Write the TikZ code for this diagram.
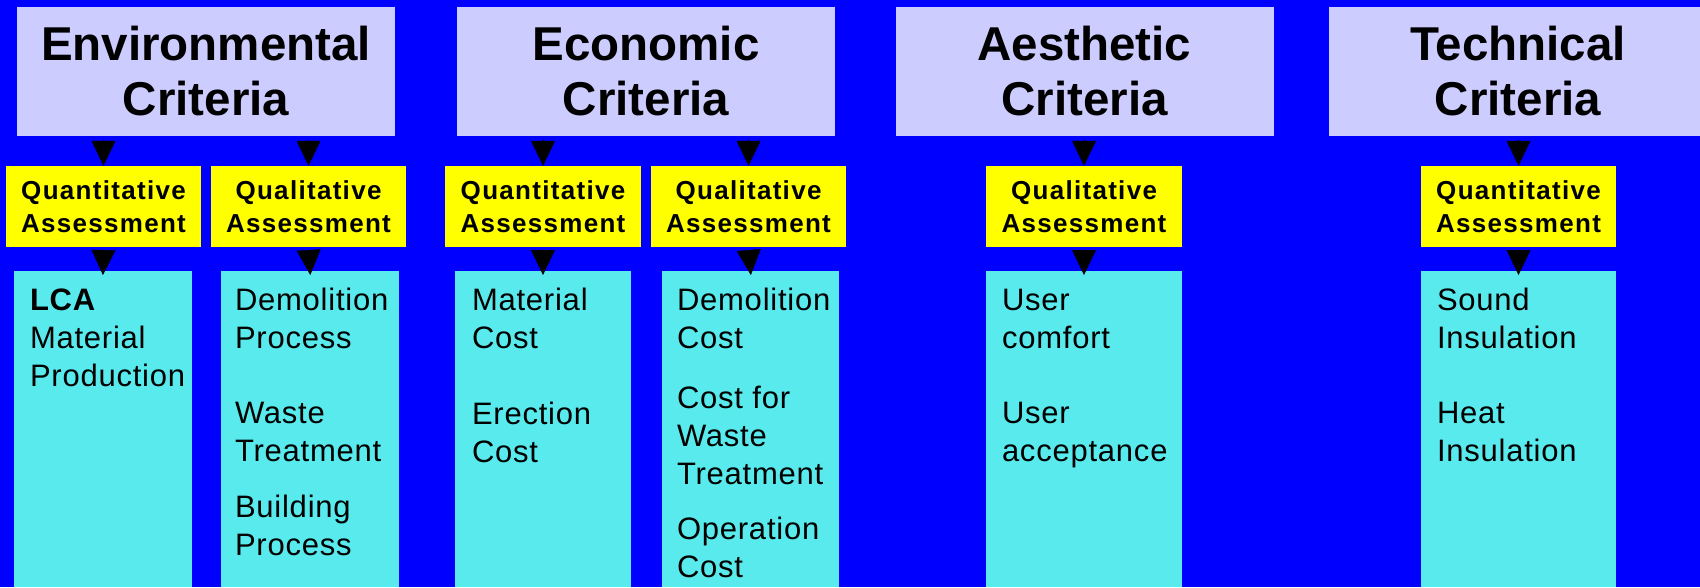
\documentclass[tikz,border=0pt]{standalone}
\usepackage{fontspec}
\setmainfont{Liberation Sans}
\newfontfamily\yfont[LetterSpace=5]{Liberation Sans}
\newfontfamily\cfont[LetterSpace=2.5]{Liberation Sans}
\usetikzlibrary{arrows.meta}
\definecolor{bgblue}{RGB}{0,0,255}
\definecolor{lav}{RGB}{204,204,255}
\definecolor{ylw}{RGB}{255,255,0}
\definecolor{cyn}{RGB}{88,234,237}
\newcommand{\topstrut}{\rule{0pt}{30pt}}
\begin{document}
\begin{tikzpicture}[x=1pt,y=1pt,
 crit/.style={fill=lav, minimum width=378pt, minimum height=129pt, inner sep=0pt, align=center, font=\fontsize{47.5}{55}\selectfont\bfseries},
 assess/.style={fill=ylw, minimum height=81pt, inner sep=0pt, align=center, font=\yfont\fontsize{26}{33}\selectfont\bfseries},
 cbox/.style={fill=cyn, minimum height=316pt, inner sep=0pt, anchor=north},
 ctext/.style={anchor=north west, inner sep=0pt, align=left, font=\cfont\fontsize{31}{38}\selectfont},
 tri/.style={-{Triangle[width=24pt,length=25pt]}, line width=0.4pt, black}
]
\useasboundingbox (0,0) rectangle (1700,-587);
\fill[bgblue] (0,0) rectangle (1700,-587);

% criteria
\node[crit] (env)  at (206,-71.5)  {Environmental\\Criteria};
\node[crit] (econ) at (646,-71.5)  {Economic\\Criteria};
\node[crit] (aest) at (1084.5,-71.5) {Aesthetic\\Criteria};
\node[crit] (tech) at (1518,-71.5) {Technical\\Criteria};

% assessments
\node[assess, minimum width=195pt] (q1) at (103.5,-206.5) {Quantitative\\Assessment};
\node[assess, minimum width=195pt] (q2) at (308.5,-206.5) {Qualitative\\Assessment};
\node[assess, minimum width=196pt] (q3) at (543,-206.5)   {Quantitative\\Assessment};
\node[assess, minimum width=195pt] (q4) at (748.5,-206.5) {Qualitative\\Assessment};
\node[assess, minimum width=196pt] (q5) at (1084,-206.5)  {Qualitative\\Assessment};
\node[assess, minimum width=195pt] (q6) at (1518.5,-206.5) {Quantitative\\Assessment};

% detail boxes
\node[cbox, minimum width=178pt] (c1) at (103,-271) {};
\node[cbox, minimum width=178pt] (c2) at (310,-271) {};
\node[cbox, minimum width=176pt] (c3) at (543,-271) {};
\node[cbox, minimum width=177pt] (c4) at (750.5,-271) {};
\node[cbox, minimum width=196pt] (c5) at (1084,-271) {};
\node[cbox, minimum width=195pt] (c6) at (1518.5,-271) {};

\node[ctext] (t1) at ([xshift=16pt,yshift=-9pt]c1.north west) {\topstrut\textbf{LCA}\\Material\\Production};
\node[ctext] (t2) at ([xshift=14pt,yshift=-9pt]c2.north west) {\topstrut Demolition\\Process\\[37pt]Waste\\Treatment\\[18pt]Building\\Process};
\node[ctext] (t3) at ([xshift=17pt,yshift=-9pt]c3.north west) {\topstrut Material\\Cost\\[38pt]Erection\\Cost};
\node[ctext] (t4) at ([xshift=15pt,yshift=-9pt]c4.north west) {\topstrut Demolition\\Cost\\[22pt]Cost for\\Waste\\Treatment\\[17pt]Operation\\Cost};
\node[ctext] (t5) at ([xshift=16pt,yshift=-9pt]c5.north west) {\topstrut User\\comfort\\[37pt]User\\acceptance};
\node[ctext] (t6) at ([xshift=16pt,yshift=-9pt]c6.north west) {\topstrut Sound\\Insulation\\[37pt]Heat\\Insulation};

% connectors
\draw[tri, shorten <=4pt] (env.south -| q1.north) -- (q1.north);
\draw[tri, shorten <=4pt] (env.south -| q2.north) -- (q2.north);
\draw[tri, shorten <=4pt] (econ.south -| q3.north) -- (q3.north);
\draw[tri, shorten <=4pt] (econ.south -| q4.north) -- (q4.north);
\draw[tri, shorten <=4pt] (aest.south -| q5.north) -- (q5.north);
\draw[tri, shorten <=4pt] (tech.south -| q6.north) -- (q6.north);

\draw[tri, shorten <=4pt, shorten >=-4pt] (q1.south) -- (c1.north);
\draw[tri, shorten <=4pt, shorten >=-4pt] (q2.south) -- (c2.north);
\draw[tri, shorten <=4pt, shorten >=-4pt] (q3.south) -- (c3.north);
\draw[tri, shorten <=4pt, shorten >=-4pt] (q4.south) -- (c4.north);
\draw[tri, shorten <=4pt, shorten >=-4pt] (q5.south) -- (c5.north);
\draw[tri, shorten <=4pt, shorten >=-4pt] (q6.south) -- (c6.north);
\end{tikzpicture}
\end{document}
